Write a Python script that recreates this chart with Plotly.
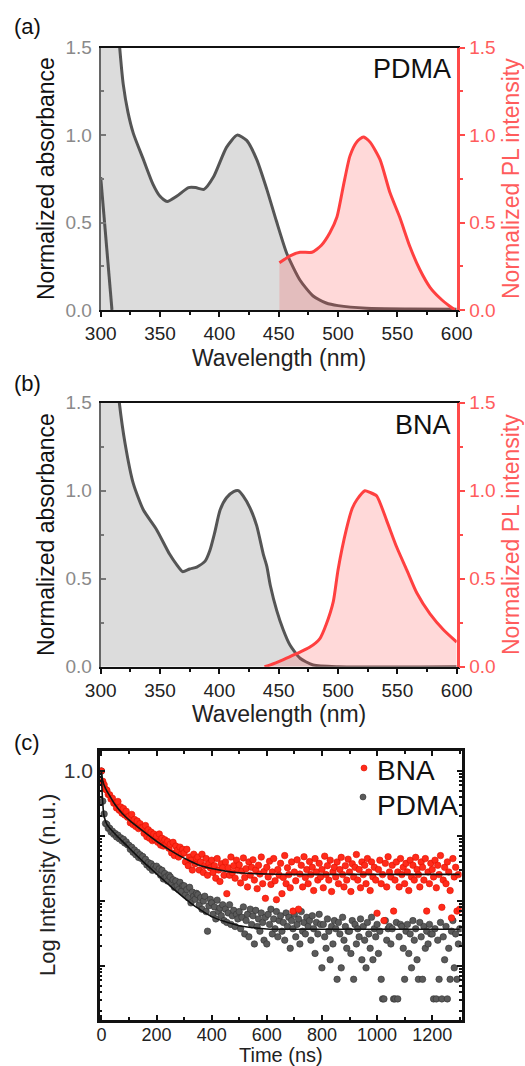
import numpy as np
import plotly.graph_objects as go

W, H = 525, 1066
FONT = "Liberation Sans, Arial, sans-serif"

# ---------------- (a) PDMA ----------------
pdma_abs_nm = [300, 305, 310, 316, 319, 323, 327.5, 336, 344, 350, 356, 364, 374, 380, 387, 395,
               406, 415, 423, 431.5, 440, 448, 457, 468, 479, 490, 500, 524, 560, 600]
pdma_abs = [3.2, 2.6, 2.05, 1.5, 1.29, 1.13, 1.01, 0.86, 0.72, 0.65, 0.62, 0.65, 0.70, 0.70, 0.69, 0.76,
            0.93, 1.0, 0.97, 0.86, 0.69, 0.51, 0.32, 0.17, 0.08, 0.04, 0.025, 0.01, 0.006, 0.005]
pdma_edge_nm = [300, 302, 305, 307, 309.5]
pdma_edge = [0.76, 0.6, 0.31, 0.2, 0.0]
pdma_pl_nm = [450.6, 455, 459.6, 468, 478, 486, 493, 499, 504.5, 510, 515.7, 521.3, 527, 535.4,
              543.8, 552, 560.7, 569, 577.5, 586, 594.4, 598.6]
pdma_pl = [0.27, 0.29, 0.31, 0.33, 0.33, 0.37, 0.44, 0.53, 0.71, 0.88, 0.96, 0.99, 0.96, 0.86,
           0.67, 0.53, 0.36, 0.23, 0.13, 0.067, 0.02, 0.0]

# ---------------- (b) BNA ----------------
bna_abs_nm = [300, 305, 310, 315.7, 320.5, 327.5, 336, 347, 358, 364, 369, 375, 381, 388, 392, 396,
              400.6, 406, 412, 416, 420, 426, 431.5, 437, 440, 443, 448.3, 453.8, 459.5, 468, 479, 500, 600]
bna_abs = [3.2, 2.4, 1.9, 1.5, 1.27, 1.04, 0.89, 0.78, 0.64, 0.58, 0.54, 0.555, 0.566, 0.60, 0.66, 0.76,
           0.89, 0.96, 0.995, 1.0, 0.97, 0.90, 0.80, 0.64, 0.57, 0.46, 0.32, 0.21, 0.123, 0.048, 0.01, 0.0, 0.0]
bna_pl_nm = [438, 443, 454, 465, 476, 484.7, 490, 496, 500, 507, 512, 516, 522.7, 527, 532.6, 541,
             549.4, 557.9, 566.3, 577.5, 588.8, 600]
bna_pl = [0.0, 0.01, 0.04, 0.074, 0.11, 0.16, 0.24, 0.37, 0.55, 0.78, 0.90, 0.95, 1.0, 0.99, 0.97, 0.83,
          0.68, 0.55, 0.42, 0.30, 0.21, 0.14]

wl_ticks = [300, 350, 400, 450, 500, 550, 600]
norm_ticks = [0, 0.5, 1.0, 1.5]
norm_labels = ["0.0", "0.5", "1.0", "1.5"]

# ---------------- (c) decay (photon counts per 5 ns bin) ----------------
bin_ns = 5
bna_counts = [
    2000, 1390, 1230, 1050, 1010, 870, 860, 740, 760, 640,
    640, 540, 680, 500, 560, 450, 530, 420, 480, 390,
    400, 320, 430, 300, 360, 280, 340, 260, 310, 270,
    270, 220, 290, 195, 250, 185, 230, 170, 215, 175,
    200, 160, 215, 145, 185, 140, 175, 150, 165, 130,
    150, 110, 160, 100, 140, 120, 95, 135, 105, 125,
    110, 80, 125, 70, 95, 85, 60, 105, 75, 90,
    95, 60, 80, 105, 55, 70, 90, 50, 75, 65,
    85, 55, 70, 45, 90, 60, 40, 75, 65, 50,
    80, 26, 65, 50, 95, 55, 70, 45, 85, 60,
    72, 38, 58, 92, 46, 63, 33, 80, 50, 66,
    86, 42, 60, 31, 71, 52, 95, 37, 57, 22,
    66, 47, 82, 36, 56, 90, 41, 21, 61, 50,
    76, 26, 46, 100, 37, 65, 51, 32, 80, 14,
    56, 41, 86, 15, 52, 71, 33, 96, 46, 61,
    37, 81, 51, 66, 29, 90, 56, 42, 76, 47,
    61, 32, 98, 51, 70, 42, 85, 28, 56, 66,
    47, 80, 37, 61, 94, 51, 33, 70, 42, 88,
    56, 28, 75, 47, 66, 104, 42, 61, 32, 80,
    51, 71, 37, 90, 56, 29, 80, 47, 66, 42,
    13, 61, 85, 37, 51, 10, 76, 33, 96, 56,
    47, 71, 14, 42, 80, 56, 33, 90, 51, 66,
    37, 76, 56, 29, 85, 47, 71, 42, 94, 61,
    51, 33, 80, 66, 42, 90, 14, 56, 37, 76,
    61, 47, 85, 32, 71, 51, 100, 16, 42, 66,
    37, 80, 56, 29, 11, 90, 47, 66, 14, 51,
    15]
pdma_counts = [
    3200, 1100, 700, 500, 480, 420, 420, 370, 380, 340,
    350, 310, 330, 290, 300, 270, 285, 250, 260, 235,
    230, 200, 215, 180, 195, 165, 180, 150, 165, 145,
    155, 130, 140, 115, 125, 105, 120, 95, 110, 100,
    110, 90, 100, 80, 95, 70, 85, 75, 65, 80,
    75, 60, 68, 52, 65, 55, 48, 62, 45, 55,
    55, 40, 48, 36, 52, 30, 44, 38, 34, 42,
    40, 28, 36, 24, 32, 38, 22, 11, 27, 34,
    30, 20, 26, 17, 33, 22, 25, 19, 28, 16,
    24, 15, 21, 28, 14, 19, 23, 13, 20, 17,
    22, 12, 18, 26, 10, 16, 20, 9, 24, 14,
    19, 7, 23, 13, 17, 11, 21, 15, 8, 18,
    7, 20, 14, 24, 10, 17, 12, 22, 9, 16,
    19, 11, 15, 8, 21, 13, 18, 6, 16, 12,
    20, 9, 14, 17, 7, 22, 11, 15, 10, 18,
    13, 16, 8, 19, 12, 5, 15, 10, 20, 14,
    3, 14, 9, 6, 17, 11, 4, 13, 7, 16,
    12, 2, 15, 10, 3, 18, 8, 13, 6, 11,
    11, 5, 16, 2, 14, 7, 12, 9, 17, 4,
    13, 8, 3, 15, 10, 6, 18, 4, 12, 9,
    14, 5, 11, 2, 1, 1, 16, 8, 12, 13,
    7, 12, 1, 1, 15, 1, 9, 14, 13, 6,
    2, 11, 14, 5, 10, 3, 16, 8, 12, 4,
    2, 15, 9, 2, 13, 6, 11, 7, 14, 10,
    10, 1, 12, 1, 8, 2, 15, 1, 9, 4,
    13, 1, 6, 2, 11, 16, 3, 10, 2, 7,
    12]
bna_fit_t = [0, 5, 10, 20, 30, 50, 75, 100, 150, 200, 250, 300, 350, 400, 450, 500, 600, 700, 900, 1300]
bna_fit_log = [0, -0.15, -0.22, -0.31, -0.38, -0.52, -0.65, -0.75, -0.92, -1.08, -1.22, -1.34, -1.44,
               -1.50, -1.54, -1.565, -1.585, -1.59, -1.59, -1.59]
pdma_fit_t = [0, 3, 6, 10, 20, 50, 100, 150, 200, 250, 300, 350, 400, 450, 500, 550, 600, 700, 900, 1300]
pdma_fit_log = [0, -0.35, -0.55, -0.70, -0.82, -0.97, -1.18, -1.39, -1.58, -1.77, -1.95, -2.11, -2.24,
                -2.32, -2.38, -2.41, -2.43, -2.435, -2.435, -2.435]
time_ticks = [0, 200, 400, 600, 800, 1000, 1200]

# ---------------- helpers ----------------
def px(x):
    return x / W

def py(y):
    return 1 - y / H

GRAY_LINE = "#555555"
GRAY_FILL = "#dcdcdc"
RED_LINE = "#ff4040"
RED_FILL = "rgba(255,80,80,0.22)"
RED_AX = "#ff4a4a"
RED_TXT = "#ff5c5c"

fig = go.Figure()

# panel (a)
fig.add_trace(go.Scatter(x=pdma_abs_nm, y=pdma_abs, mode="lines", fill="tozeroy", fillcolor=GRAY_FILL,
                         line=dict(color=GRAY_LINE, width=3, shape="spline", smoothing=0.6),
                         xaxis="x", yaxis="y", showlegend=False))
fig.add_trace(go.Scatter(x=pdma_edge_nm, y=pdma_edge, mode="lines",
                         line=dict(color=GRAY_LINE, width=3), xaxis="x", yaxis="y", showlegend=False))
fig.add_trace(go.Scatter(x=pdma_pl_nm, y=pdma_pl, mode="lines", fill="tozeroy", fillcolor=RED_FILL,
                         line=dict(color=RED_LINE, width=3, shape="spline", smoothing=0.6),
                         xaxis="x", yaxis="y2", showlegend=False))
# panel (b)
fig.add_trace(go.Scatter(x=bna_abs_nm, y=bna_abs, mode="lines", fill="tozeroy", fillcolor=GRAY_FILL,
                         line=dict(color=GRAY_LINE, width=3, shape="spline", smoothing=0.6),
                         xaxis="x2", yaxis="y3", showlegend=False))
fig.add_trace(go.Scatter(x=bna_pl_nm, y=bna_pl, mode="lines", fill="tozeroy", fillcolor=RED_FILL,
                         line=dict(color=RED_LINE, width=3, shape="spline", smoothing=0.6),
                         xaxis="x2", yaxis="y4", showlegend=False))
# panel (c)
pdma_t = [i * bin_ns for i in range(len(pdma_counts))]
bna_t = [i * bin_ns for i in range(len(bna_counts))]
pdma_int = [c / pdma_counts[0] for c in pdma_counts]
bna_int = [c / bna_counts[0] for c in bna_counts]
fig.add_trace(go.Scatter(x=pdma_t, y=pdma_int, mode="markers",
                         marker=dict(size=6.5, color="#5a5a5a", line=dict(color="#333333", width=0.6)),
                         xaxis="x3", yaxis="y5", showlegend=False))
fig.add_trace(go.Scatter(x=bna_t, y=bna_int, mode="markers",
                         marker=dict(size=6.5, color="#ff2a1a", line=dict(color="#e01000", width=0.6)),
                         xaxis="x3", yaxis="y5", showlegend=False))
fig.add_trace(go.Scatter(x=pdma_fit_t, y=[10 ** v for v in pdma_fit_log], mode="lines",
                         line=dict(color="#111111", width=1.6, shape="spline"),
                         xaxis="x3", yaxis="y5", showlegend=False))
fig.add_trace(go.Scatter(x=bna_fit_t, y=[10 ** v for v in bna_fit_log], mode="lines",
                         line=dict(color="#111111", width=1.6, shape="spline"),
                         xaxis="x3", yaxis="y5", showlegend=False))

tickfont = dict(family=FONT, size=19, color="#222222")

def wl_xaxis(ydom_anchor):
    return dict(domain=[px(100.7), px(456.7)], anchor=ydom_anchor, range=[300, 600], automargin=False,
                tickvals=wl_ticks, ticks="outside", ticklen=5, tickwidth=2, tickcolor="#111",
                minor=dict(dtick=25, tick0=300, ticks="outside", ticklen=3, tickwidth=2, tickcolor="#111"),
                showline=True, linecolor="#111111", linewidth=2, mirror=True,
                showgrid=False, zeroline=False, tickfont=tickfont)

def abs_yaxis(anchor, dom):
    return dict(domain=dom, anchor=anchor, range=[0, 1.5], tickvals=norm_ticks, ticktext=norm_labels,
                automargin=False,
                ticks="inside", ticklen=5, tickwidth=1.5, tickcolor="#777",
                minor=dict(dtick=0.25, tick0=0, ticks="inside", ticklen=3, tickcolor="#777"),
                showline=True, linecolor="#666666", linewidth=2,
                showgrid=False, zeroline=False, ticklabelstandoff=3,
                tickfont=dict(family=FONT, size=19, color="#8a8a8a"))

def pl_yaxis(anchor, over):
    return dict(overlaying=over, side="right", anchor=anchor, range=[0, 1.5], tickvals=norm_ticks,
                ticktext=norm_labels, ticks="outside", ticklen=6, tickwidth=2, tickcolor=RED_AX,
                automargin=False,
                minor=dict(dtick=0.25, tick0=0, ticks="outside", ticklen=4, tickcolor=RED_AX),
                showline=True, linecolor=RED_AX, linewidth=2.5,
                showgrid=False, zeroline=False,
                tickfont=dict(family=FONT, size=19, color=RED_TXT))

dom_a = [py(310), py(47.7)]
dom_b = [py(666.7), py(402.7)]
dom_c = [py(1020), py(751)]

minor_log = [m * 10 ** e for e in range(-4, 1) for m in range(2, 10)]

layout = dict(
    width=W, height=H, margin=dict(l=0, r=0, t=0, b=0, autoexpand=False),
    paper_bgcolor="white", plot_bgcolor="rgba(0,0,0,0)", showlegend=False,
    xaxis=wl_xaxis("y"),
    yaxis=abs_yaxis("x", dom_a),
    yaxis2=pl_yaxis("x", "y"),
    xaxis2=wl_xaxis("y3"),
    yaxis3=abs_yaxis("x2", dom_b),
    yaxis4=pl_yaxis("x2", "y3"),
    xaxis3=dict(domain=[px(100), px(461.7)], anchor="y5", range=[-5, 1307], automargin=False,
                tickvals=time_ticks, ticks="inside", ticklen=5, tickwidth=1.5, tickcolor="#111",
                minor=dict(dtick=100, tick0=0, ticks="inside", ticklen=3, tickcolor="#111"),
                showline=True, linecolor="#111111", linewidth=2.5, mirror="ticks",
                showgrid=False, zeroline=False, ticklabelstandoff=-3,
                tickfont=dict(family=FONT, size=18, color="#222222")),
    yaxis5=dict(domain=dom_c, anchor="x3", type="log", range=[-3.83, 0.308], automargin=False,
                tickvals=[1, 0.1, 0.01, 0.001], ticktext=["1.0", "", "", ""],
                ticks="inside", ticklen=5, tickwidth=1.5, tickcolor="#111",
                minor=dict(tickvals=minor_log, ticks="inside", ticklen=2.5, tickcolor="#111"),
                showline=True, linecolor="#111111", linewidth=2.5, mirror="ticks",
                showgrid=False, zeroline=False,
                tickfont=dict(family=FONT, size=21, color="#333333")),
)
fig.update_layout(**layout)

ann = []
def text(x, y, s, size, color="#111", xanchor="center", angle=0):
    ann.append(dict(x=px(x), y=py(y), xref="paper", yref="paper", text=s, showarrow=False,
                    xanchor=xanchor, yanchor="middle", textangle=angle,
                    font=dict(family=FONT, size=size, color=color)))

text(27, 26, "(a)", 22)
text(27, 383, "(b)", 22)
text(27, 742, "(c)", 22)
text(453, 69, "PDMA", 27, xanchor="right")
text(453, 425, "BNA", 27, xanchor="right")
text(46, 179, "Normalized absorbance", 23, angle=-90)
text(46, 535, "Normalized absorbance", 23, angle=-90)
text(511, 179, "Normalized PL intensity", 23, color=RED_TXT, angle=-90)
text(511, 535, "Normalized PL intensity", 23, color=RED_TXT, angle=-90)
text(279, 358, "Wavelength (nm)", 23, color="#222")
text(279, 714, "Wavelength (nm)", 23, color="#222")
text(281, 1055, "Time (ns)", 20, color="#222")
text(47, 885, "Log Intensity (n.u.)", 22, color="#222", angle=-90)
text(375, 770, "BNA", 28, xanchor="left")
text(375, 805, "PDMA", 28, xanchor="left")
fig.update_layout(annotations=ann)

fig.update_layout(shapes=[
    dict(type="circle", xref="paper", yref="paper", x0=px(361), x1=px(367), y0=py(765), y1=py(771),
         fillcolor="#ff2a1a", line=dict(color="#e01000", width=0.6)),
    dict(type="circle", xref="paper", yref="paper", x0=px(360), x1=px(366), y0=py(794), y1=py(800),
         fillcolor="#5a5a5a", line=dict(color="#333333", width=0.6)),
])

fig.write_html("out.html", config={"displayModeBar": False},
               post_script="document.body.style.margin='0';document.body.style.overflow='hidden';")
